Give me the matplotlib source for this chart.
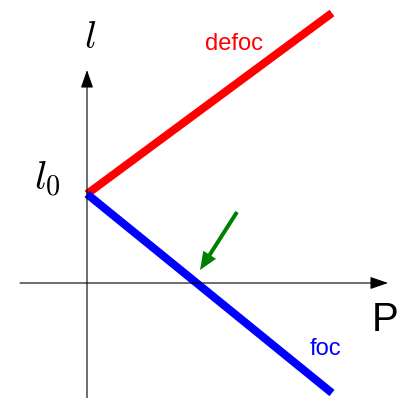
import matplotlib
matplotlib.use("Agg")
import matplotlib.pyplot as plt

plt.rcParams['font.family'] = ['Liberation Sans', 'DejaVu Sans']
plt.rcParams['mathtext.fontset'] = 'cm'

# Data (arbitrary units, origin at the axis crossing)
P = [0, 245]
l_defoc = [89, 270]
l_foc = [89, -110]
arrow_tail = (150, 71)   # green arrow pointing at the foc zero crossing
arrow_tip = (113, 13)

fig = plt.figure(figsize=(3.99, 3.98), dpi=100)
ax = fig.add_axes([0, 0, 1, 1])
ax.set_xlim(-87, 312)
ax.set_ylim(-115, 283)
ax.set_aspect('equal')
ax.axis('off')

# axes with arrow heads
ax.annotate('', xy=(301, 0), xytext=(-67, 0),
            arrowprops=dict(arrowstyle='-|>,head_length=1.1,head_width=0.38',
                            color='black', lw=0.8, shrinkA=0, shrinkB=0))
ax.annotate('', xy=(0, 213), xytext=(0, -115),
            arrowprops=dict(arrowstyle='-|>,head_length=1.1,head_width=0.38',
                            color='black', lw=0.8, shrinkA=0, shrinkB=0))

ax.plot(P, l_defoc, color='#ff0000', lw=5.8, solid_capstyle='butt')
ax.plot(P, l_foc, color='#0000ff', lw=5.8, solid_capstyle='butt')

ax.arrow(arrow_tail[0], arrow_tail[1],
         arrow_tip[0] - arrow_tail[0], arrow_tip[1] - arrow_tail[1],
         width=4, head_width=15, head_length=18, length_includes_head=True,
         color='#008000', lw=0)

ax.text(147, 239, 'defoc', color='#ff0000', fontsize=17, ha='center', va='center')
ax.text(238, -66, 'foc', color='#0000ff', fontsize=17, ha='center', va='center')
ax.text(298, -37, 'P', color='black', fontsize=29, ha='center', va='center')
ax.text(3, 245, r'$l$', fontsize=28, ha='center', va='center')
ax.text(-40, 104, r'$l_0$', fontsize=29, ha='center', va='center')

fig.savefig('out.png', dpi=100)
